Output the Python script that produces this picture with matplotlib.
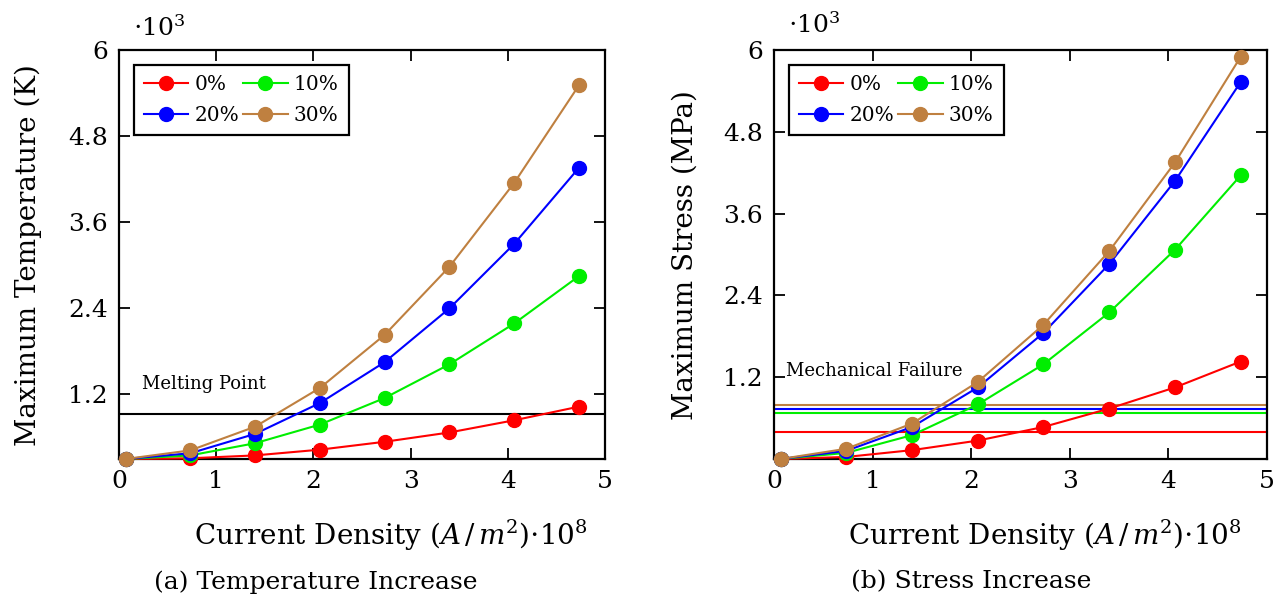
import matplotlib
matplotlib.use("Agg")
import matplotlib.pyplot as plt
from matplotlib.lines import Line2D

plt.rcParams['font.family'] = ['DejaVu Serif']
plt.rcParams['mathtext.fontset'] = 'dejavuserif'

# current density (x 10^8 A/m^2)
density = [0.067, 0.733, 1.4, 2.067, 2.733, 3.4, 4.067, 4.733]
labels = ["0%", "10%", "20%", "30%"]
colors = ["#ff0000", "#00ee00", "#0000ff", "#bf8040"]

# maximum temperature (x 10^3 K)
temp_0 = [0.30, 0.31, 0.35, 0.43, 0.54, 0.67, 0.84, 1.03]
temp_10 = [0.30, 0.35, 0.52, 0.78, 1.15, 1.62, 2.19, 2.85]
temp_20 = [0.30, 0.38, 0.65, 1.08, 1.65, 2.40, 3.30, 4.36]
temp_30 = [0.30, 0.42, 0.75, 1.29, 2.03, 2.98, 4.15, 5.51]
melting_point = 0.933

# maximum stress (x 10^3 MPa)
stress_0 = [0.0, 0.03, 0.13, 0.27, 0.47, 0.74, 1.05, 1.43]
stress_10 = [0.0, 0.09, 0.35, 0.80, 1.39, 2.15, 3.07, 4.16]
stress_20 = [0.0, 0.12, 0.47, 1.05, 1.85, 2.86, 4.08, 5.53]
stress_30 = [0.0, 0.15, 0.52, 1.13, 1.97, 3.05, 4.35, 5.90]
failure = [0.393, 0.672, 0.73, 0.795]

yticks = [1.2, 2.4, 3.6, 4.8, 6]

W, H = 1284, 601
fig = plt.figure(figsize=(W / 100, H / 100), dpi=100)


def px_axes(x0, x1, y0, y1):
    return fig.add_axes([x0 / W, 1 - y1 / H, (x1 - x0) / W, (y1 - y0) / H])


def style(ax, ymin):
    ax.set_xlim(0, 5)
    ax.set_ylim(ymin, 6)
    ax.set_xticks(range(6))
    ax.set_yticks(yticks)
    ax.set_yticklabels(["%g" % t for t in yticks])
    ax.tick_params(direction='in', top=True, right=True, length=8, width=1.3,
                   labelsize=18, pad=8)
    for s in ax.spines.values():
        s.set_linewidth(1.6)


def add_legend(ax):
    h = [Line2D([], [], color=c, marker='o', markersize=10, linewidth=1.5) for c in colors]
    order = [0, 2, 1, 3]
    leg = ax.legend([h[i] for i in order], [labels[i] for i in order], ncol=2,
                    loc='upper left', fontsize=14.5, fancybox=False, framealpha=1,
                    edgecolor='black', handlelength=2.2, columnspacing=0.2,
                    handletextpad=0.3, borderaxespad=0.75, labelspacing=0.6,
                    borderpad=0.5, bbox_to_anchor=(0.0, 1.0))
    leg.get_frame().set_linewidth(1.6)


# (a) temperature
ax1 = px_axes(119, 605, 50, 459)
for ys, c in zip([temp_0, temp_10, temp_20, temp_30], colors):
    ax1.plot(density, ys, color=c, marker='o', markersize=10, linewidth=1.5, clip_on=False, zorder=3)
ax1.axhline(melting_point, color='black', linewidth=1.5)
ax1.text(0.24, 1.28, "Melting Point", fontsize=13, va='baseline')
style(ax1, 0.3)
add_legend(ax1)

# (b) stress
ax2 = px_axes(774, 1267, 50, 459)
for f, c in zip(failure, colors):
    ax2.axhline(f, color=c, linewidth=1.5)
for ys, c in zip([stress_0, stress_10, stress_20, stress_30], colors):
    ax2.plot(density, ys, color=c, marker='o', markersize=10, linewidth=1.5, clip_on=False, zorder=3)
ax2.text(0.12, 1.22, "Mechanical Failure", fontsize=13, va='baseline')
style(ax2, 0)
add_legend(ax2)

# labels
def ftext(x, y, s, **kw):
    fig.text(x / W, 1 - y / H, s, **kw)

ftext(28, 255, "Maximum Temperature (K)", rotation=90, fontsize=20, ha='center', va='center')
ftext(685, 255, "Maximum Stress (MPa)", rotation=90, fontsize=20, ha='center', va='center')
ftext(133, 28, r"$\cdot10^3$", fontsize=18, ha='left', va='center')
ftext(788, 25, r"$\cdot10^3$", fontsize=18, ha='left', va='center')
ftext(391, 535, r"Current Density $(A\,/\,m^2)$$\cdot10^8$", fontsize=20, ha='center', va='center')
ftext(1045, 535, r"Current Density $(A\,/\,m^2)$$\cdot10^8$", fontsize=20, ha='center', va='center')
ftext(316, 582, "(a) Temperature Increase", fontsize=18, ha='center', va='center')
ftext(971, 582, "(b) Stress Increase", fontsize=18, ha='center', va='center')

fig.savefig("out.png", dpi=100)
